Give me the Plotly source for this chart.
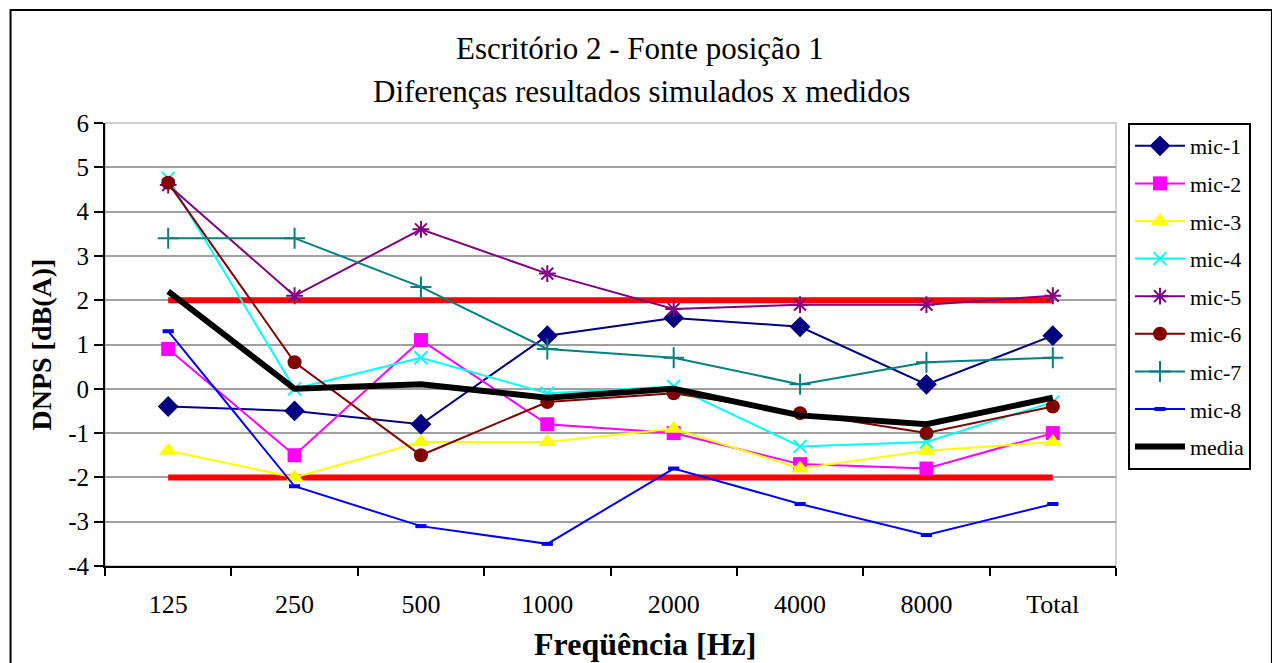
import plotly.graph_objects as go

categories = ["125", "250", "500", "1000", "2000", "4000", "8000", "Total"]
mic1 = [-0.4, -0.5, -0.8, 1.2, 1.6, 1.4, 0.1, 1.2]
mic2 = [0.9, -1.5, 1.1, -0.8, -1.0, -1.7, -1.8, -1.0]
mic3 = [-1.4, -2.0, -1.2, -1.2, -0.9, -1.8, -1.4, -1.2]
mic4 = [4.75, 0.0, 0.7, -0.1, 0.05, -1.3, -1.2, -0.3]
mic5 = [4.6, 2.1, 3.6, 2.6, 1.8, 1.9, 1.9, 2.1]
mic6 = [4.65, 0.6, -1.5, -0.3, -0.1, -0.55, -1.0, -0.4]
mic7 = [3.4, 3.4, 2.3, 0.9, 0.7, 0.1, 0.6, 0.7]
mic8 = [1.3, -2.2, -3.1, -3.5, -1.8, -2.6, -3.3, -2.6]
media = [2.2, 0.0, 0.1, -0.2, 0.0, -0.6, -0.8, -0.2]
limit_upper = [2, 2, 2, 2, 2, 2, 2, 2]
limit_lower = [-2, -2, -2, -2, -2, -2, -2, -2]
y_tickvals = [-4, -3, -2, -1, 0, 1, 2, 3, 4, 5, 6]
y_ticktext = ["-4", "-3", "-2", "-1", "0", "1", "2", "3", "4", "5", "6"]

FONT = "Liberation Serif"

fig = go.Figure()

# tolerance limits (not in legend)
for lim in (limit_upper, limit_lower):
    fig.add_trace(go.Scatter(x=categories, y=lim, mode="lines",
                             line=dict(color="#ff0000", width=6),
                             showlegend=False, hoverinfo="skip"))

series = [
    ("mic-1", mic1, "#000080", dict(symbol="diamond", size=16, color="#000080")),
    ("mic-2", mic2, "#ff00ff", dict(symbol="square", size=14, color="#ff00ff")),
    ("mic-3", mic3, "#ffff00", dict(symbol="triangle-up", size=16, color="#ffff00")),
    ("mic-4", mic4, "#00ffff", dict(symbol="x-thin-open", size=13, color="#00ffff",
                                     line=dict(color="#00ffff", width=2))),
    ("mic-5", mic5, "#800080", dict(symbol="asterisk-open", size=14, color="#800080",
                                     line=dict(color="#800080", width=2))),
    ("mic-6", mic6, "#800000", dict(symbol="circle", size=14, color="#800000")),
    ("mic-7", mic7, "#008080", dict(symbol="cross-thin-open", size=15, color="#008080",
                                     line=dict(color="#008080", width=2))),
    ("mic-8", mic8, "#0000ff", dict(symbol="line-ew-open", size=8, color="#0000ff",
                                     line=dict(color="#0000ff", width=4))),
]

for name, vals, col, mk in series:
    fig.add_trace(go.Scatter(x=categories, y=vals, name=name, mode="lines+markers",
                             line=dict(color=col, width=2), marker=mk,
                             legendgroup=name))

fig.add_trace(go.Scatter(x=categories, y=media, name="media", mode="lines",
                         line=dict(color="#000000", width=6), legendgroup="media"))

# page renders the figure offset by the body margin
OFF = 8
W, H = 1280, 663
L, R, T, B = 104.5 - OFF, 1116 - OFF, 123 - OFF, 566 - OFF
pw, ph = R - L, B - T

def px(xp):
    return (xp - OFF - L) / pw

def py(yp):
    return (B - (yp - OFF)) / ph

fig.update_layout(
    width=W, height=H,
    margin=dict(l=L, r=W - R, t=T, b=H - B),
    paper_bgcolor="white", plot_bgcolor="white",
    font=dict(family=FONT, color="black", size=21),
    showlegend=True,
    legend=dict(x=px(1128), xanchor="left", y=py(123), yanchor="top",
                bordercolor="black", borderwidth=2, bgcolor="white",
                font=dict(family=FONT, size=22, color="black"),
                itemwidth=50,
                tracegroupgap=6, traceorder="grouped"),
    xaxis=dict(type="category", range=[-0.5, 7.5], showgrid=False,
               showline=True, linecolor="black", linewidth=2,
               ticks="outside", ticklen=8, tickwidth=2, tickcolor="black",
               tickson="boundaries", ticklabelstandoff=14,
               tickfont=dict(family=FONT, size=26, color="black")),
    yaxis=dict(range=[-4, 6], tickvals=y_tickvals, ticktext=y_ticktext,
               showgrid=True, gridcolor="#a0a0a0", gridwidth=2,
               zeroline=False,
               showline=True, linecolor="black", linewidth=2,
               ticks="outside", ticklen=9, tickwidth=2, tickcolor="black",
               tickfont=dict(family=FONT, size=25, color="black")),
    annotations=[
        dict(text="Escritório 2 - Fonte posição 1", x=px(640), y=py(48),
             xref="paper", yref="paper", showarrow=False, xanchor="center", yanchor="middle",
             font=dict(family=FONT, size=31, color="black")),
        dict(text="Diferenças resultados simulados x medidos", x=px(641), y=py(92),
             xref="paper", yref="paper", showarrow=False, xanchor="center", yanchor="middle",
             font=dict(family=FONT, size=31, color="black")),
        dict(text="<b>DNPS [dB(A)]</b>", x=px(40), y=py(345), textangle=-90,
             xref="paper", yref="paper", showarrow=False, xanchor="center", yanchor="middle",
             font=dict(family=FONT, size=28, color="black")),
        dict(text="<b>Freqüência [Hz]</b>", x=px(645), y=py(644),
             xref="paper", yref="paper", showarrow=False, xanchor="center", yanchor="middle",
             font=dict(family=FONT, size=32, color="black")),
    ],
    shapes=[
        dict(type="rect", xref="paper", yref="paper", x0=0, x1=1, y0=0, y1=1,
             line=dict(color="#a0a0a0", width=1), layer="below"),
        dict(type="rect", xref="paper", yref="paper", x0=px(10), x1=px(1272),
             y0=py(690), y1=py(10), line=dict(color="black", width=2)),
    ],
)

fig.write_html("out.html")
